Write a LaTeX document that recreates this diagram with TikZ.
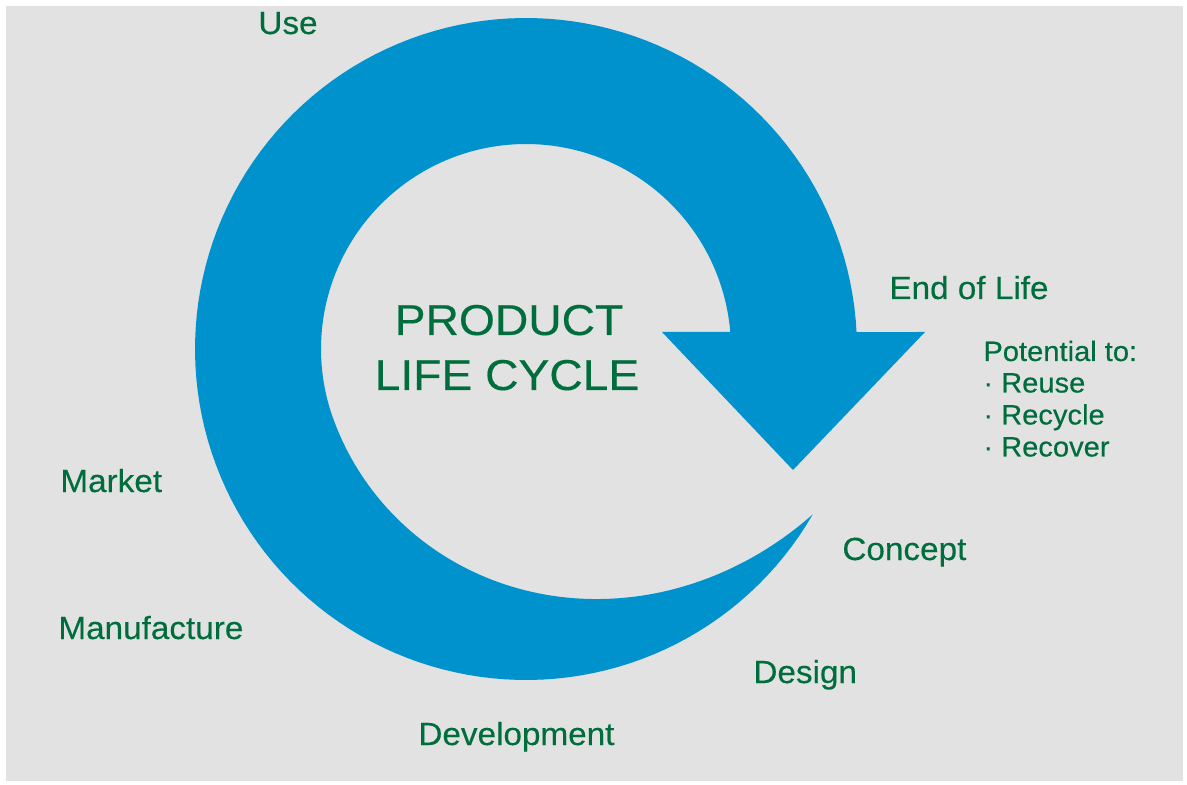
\documentclass[tikz,border=0pt]{standalone}
\usepackage{fontspec}
\setmainfont{Liberation Sans}
\newfontfamily\titlefont[FakeStretch=1.07,FakeBold=0.3]{Liberation Sans}
\newfontfamily\lblfont[FakeStretch=1.04,FakeBold=0.3]{Liberation Sans}
\definecolor{ringblue}{RGB}{0,146,204}
\definecolor{txtgreen}{RGB}{0,110,60}
\definecolor{bggray}{RGB}{226,226,226}
\begin{document}
\begin{tikzpicture}[x=0.5pt,y=-0.5pt,
  declare function={rin(\a)=205+126*pow(max(0.0001,(\a-200)/130),2.0);},
  lbl/.style={text=txtgreen, anchor=base west, inner sep=0pt, font=\lblfont\fontsize{16}{19}\selectfont},
  smalllbl/.style={text=txtgreen, anchor=base west, inner sep=0pt, font=\lblfont\fontsize{14}{17}\selectfont},
  titlelbl/.style={text=txtgreen, anchor=base, inner sep=0pt, font=\titlefont\fontsize{21.6}{26}\selectfont}]
\useasboundingbox (0,0) rectangle (1187,785);
\fill[white] (0,0) rectangle (1187,785);
\fill[bggray] (6,6) rectangle (1183,781);
% ring with arrowhead
\fill[ringblue] (730.6,332)
  -- plot[domain=4.75:330, samples=200] ({526+rin(\x)*cos(\x)},{349-rin(\x)*sin(\x)})
  -- plot[domain=330:2.94, samples=150] ({526+331*cos(\x)},{349-331*sin(\x)})
  -- (925,332) -- (793,470) -- (662,332) -- cycle;
% title
\node[titlelbl] (t1) at (509,335) {PRODUCT};
\node[titlelbl] (t2) at (507,390) {LIFE CYCLE};
% labels
\node[lbl] (use) at (258,34) {Use};
\node[lbl] (eol) at (889,299) {End of Life};
\node[smalllbl] (pot) at (983,361) {Potential to:};
\node[smalllbl] (reuse) at (983,392.5) {· Reuse};
\node[smalllbl] (recycle) at (983,424.5) {· Recycle};
\node[smalllbl] (recover) at (983,456.5) {· Recover};
\node[lbl] (market) at (60,492) {Market};
\node[lbl] (manuf) at (58,639) {Manufacture};
\node[lbl] (concept) at (842,560) {Concept};
\node[lbl] (design) at (753,683) {Design};
\node[lbl] (dev) at (418,745) {Development};
\end{tikzpicture}
\end{document}
